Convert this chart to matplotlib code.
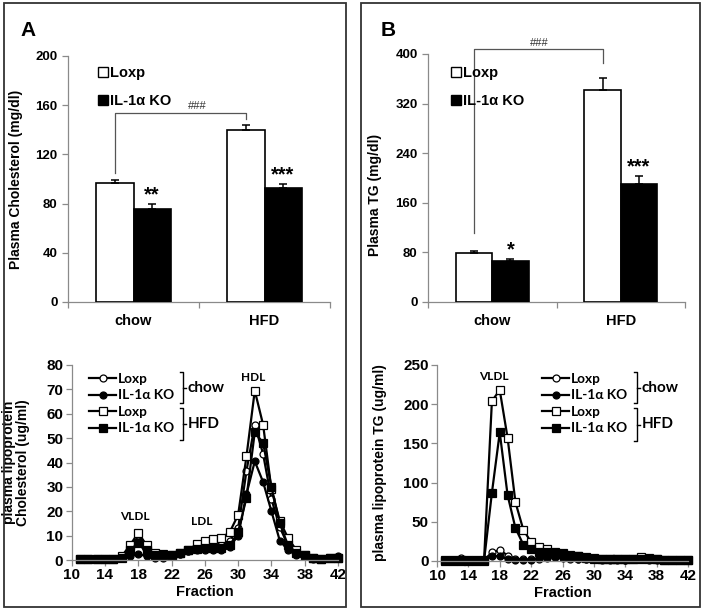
import matplotlib
matplotlib.use('Agg')
import matplotlib.pyplot as plt
from matplotlib.lines import Line2D
from matplotlib.patches import Rectangle, Patch

# ---------------- data ----------------
categories = ['chow', 'HFD']

chol_loxp = [96.5, 140]
chol_loxp_err = [2.5, 4]
chol_ko = [75.5, 93]
chol_ko_err = [4, 3]
chol_stars = ['**', '***']

tg_loxp = [79, 342]
tg_loxp_err = [3.5, 20]
tg_ko = [66, 191]
tg_ko_err = [4, 12]
tg_stars = ['*', '***']

fractions = list(range(11, 43))

chol_loxp_chow = [0.5, 0.5, 0.5, 0.5, 0.5, 1.0, 3.0, 8.0, 2.0, 1.5, 1.5, 2.0, 2.5, 3.5, 4.5, 5.0,
                  5.5, 6.0, 8.0, 13.0, 36.5, 55.5, 43.5, 25.0, 13.5, 6.0, 3.0, 2.0, 1.0, 0.5, 1.0, 1.0]
chol_ko_chow = [0.5, 0.5, 0.5, 0.5, 0.5, 0.8, 1.5, 2.5, 1.5, 1.0, 1.0, 1.5, 2.5, 3.5, 4.0, 4.0,
                4.0, 4.0, 5.5, 10.0, 27.0, 40.5, 32.0, 20.0, 8.0, 4.0, 2.0, 1.5, 0.5, 0.5, 1.0, 1.5]
chol_loxp_hfd = [0.5, 0.5, 0.5, 0.5, 0.5, 1.5, 6.0, 11.2, 6.0, 3.0, 2.5, 2.0, 3.0, 4.0, 6.5, 8.0,
                 8.5, 9.0, 11.5, 18.5, 42.5, 69.5, 55.5, 29.0, 16.0, 9.0, 4.0, 2.0, 1.0, 0.5, 1.0, 1.0]
chol_ko_hfd = [0.5, 0.5, 0.5, 0.5, 0.5, 1.0, 4.0, 7.0, 4.0, 2.0, 2.0, 2.0, 3.0, 4.0, 4.5, 5.0,
               5.0, 5.0, 6.0, 11.5, 25.5, 52.5, 48.0, 30.0, 15.0, 6.0, 3.0, 2.0, 1.0, 0.5, 1.0, 1.0]

tg_loxp_chow = [1, 1, 4, 1, 1, 1, 11, 14, 7, 3, 2, 2, 3, 4, 5, 4,
                3, 3, 2, 2, 2, 2, 2, 1, 2, 3, 2, 2, 1, 1, 1, 1]
tg_ko_chow = [0.5, 0.5, 0.5, 0.5, 0.5, 0.5, 6.5, 6, 2.5, 1.5, 1.5, 1.5, 4, 5, 5, 5,
              4, 3, 2, 2, 1.5, 1.5, 1.5, 1.5, 2, 2, 1.5, 1, 1, 1, 1, 1]
tg_loxp_hfd = [1, 1, 1, 1, 1, 1, 204, 218, 157, 75, 40, 24, 18, 15, 12, 10,
               8, 6, 5, 4, 3, 3, 2, 2, 3, 5, 4, 2, 1, 1, 1, 1]
tg_ko_hfd = [0.5, 0.5, 0.5, 0.5, 0.5, 0.5, 87, 164, 84, 42, 21, 15, 12, 11, 10, 9,
             7, 6, 4, 3, 3, 2, 2, 2, 3, 3, 2, 2, 1, 1, 1, 1]

series_labels = ['Loxp', 'IL-1\u03b1 KO', 'Loxp', 'IL-1\u03b1 KO']

# ---------------- figure ----------------
W, H = 703, 611
plt.rcParams['font.family'] = ['Liberation Sans', 'DejaVu Sans']
plt.rcParams['font.weight'] = 'bold'
plt.rcParams['axes.labelweight'] = 'bold'

fig = plt.figure(figsize=(W / 100, H / 100), dpi=100)


def rect(x0, x1, ytop, ybot):
    return [x0 / W, 1 - ybot / H, (x1 - x0) / W, (ybot - ytop) / H]


def fx(x):
    return x / W


def fy(y):
    return 1 - y / H


axis_gray = '#8a8a8a'


def style_axes(ax):
    for s in ['top', 'right']:
        ax.spines[s].set_visible(False)
    for s in ['left', 'bottom']:
        ax.spines[s].set_color(axis_gray)
        ax.spines[s].set_linewidth(0.9)
    ax.tick_params(colors=axis_gray, labelcolor='black', direction='out', length=4, width=0.9)


# panel borders
fig.add_artist(Rectangle((fx(4), fy(607)), (346 - 4) / W, (607 - 3) / H, transform=fig.transFigure,
                         fill=False, edgecolor='#333333', linewidth=1.3))
fig.add_artist(Rectangle((fx(361), fy(607)), (700 - 361) / W, (607 - 3) / H, transform=fig.transFigure,
                         fill=False, edgecolor='#333333', linewidth=1.3))

fig.text(fx(20), fy(30), 'A', fontsize=15, fontweight='bold', va='center', ha='left')
fig.text(fx(381), fy(30), 'B', fontsize=15, fontweight='bold', va='center', ha='left')

bw = 0.283


def bar_panel(ax, loxp, loxp_err, ko, ko_err, stars, ymax, step, ylabel, ylab_coords,
              bracket, hash_xy, leg_anchor):
    style_axes(ax)
    xc = [0.5, 1.5]
    xl = [c - bw / 2 for c in xc]
    xk = [c + bw / 2 for c in xc]
    ax.bar(xl, loxp, bw, color='white', edgecolor='black', linewidth=1.2,
           yerr=[[0, 0], loxp_err], error_kw=dict(ecolor='black', elinewidth=1.1, capsize=3, capthick=1.1),
           label='Loxp', zorder=3)
    ax.bar(xk, ko, bw, color='black', edgecolor='black', linewidth=1.2,
           yerr=[[0, 0], ko_err], error_kw=dict(ecolor='black', elinewidth=1.1, capsize=3, capthick=1.1),
           label='IL-1\u03b1 KO', zorder=3)
    for x, v, e, s in zip(xk, ko, ko_err, stars):
        ax.annotate(s, xy=(x, v + e), xytext=(0, 2.5), textcoords='offset points',
                    ha='center', va='baseline', fontsize=14.5, fontweight='bold')
    ax.set_xlim(0, 2)
    ax.set_ylim(0, ymax)
    ax.set_yticks(range(0, ymax + 1, step))
    ax.set_xticks(xc)
    ax.set_xticklabels(categories, fontsize=10.5, fontweight='bold')
    ax.set_xticks([0, 1, 2], minor=True)
    ax.tick_params(axis='x', which='major', length=0, pad=9)
    ax.tick_params(axis='x', which='minor', length=4, color=axis_gray, width=0.9)
    ax.tick_params(axis='y', labelsize=9.5)
    ax.set_ylabel(ylabel, fontsize=10, fontweight='bold')
    ax.yaxis.set_label_coords(*ylab_coords)
    # significance bracket
    y0l, y0r, ytop = bracket
    ax.plot([xl[0], xl[0], xl[1], xl[1]], [y0l, ytop, ytop, y0r], color='#555555', lw=0.9,
            clip_on=False, zorder=2)
    ax.text(hash_xy[0], hash_xy[1], '###', fontsize=8, fontweight='normal', ha='center',
            va='bottom', color='#333333')
    handles = [Patch(facecolor='white', edgecolor='black', linewidth=1.0),
               Patch(facecolor='black', edgecolor='black', linewidth=1.0)]
    ax.legend(handles, ['Loxp', 'IL-1\u03b1 KO'], loc='upper left', bbox_to_anchor=leg_anchor,
              bbox_transform=fig.transFigure, frameon=False, handlelength=0.7, handleheight=0.7,
              handletextpad=0.15, labelspacing=0.95, borderpad=0, borderaxespad=0,
              prop={'size': 10.5, 'weight': 'bold'})


axA = fig.add_axes(rect(68, 330, 56, 302))
bar_panel(axA, chol_loxp, chol_loxp_err, chol_ko, chol_ko_err, chol_stars, 200, 40,
          'Plasma Cholesterol (mg/dl)', (-0.172, 0.5), (105, 149, 154), (0.985, 155),
          (fx(98), fy(66)))

axB = fig.add_axes(rect(428, 685, 54, 302))
bar_panel(axB, tg_loxp, tg_loxp_err, tg_ko, tg_ko_err, tg_stars, 400, 80,
          'Plasma TG (mg/dl)', (-0.18, 0.43), (111, 385, 408), (0.87, 410),
          (fx(451), fy(66)))

# ---------------- line charts ----------------
styles = [dict(marker='o', mfc='white', ms=5.0),
          dict(marker='o', mfc='black', ms=5.0),
          dict(marker='s', mfc='white', ms=5.6),
          dict(marker='s', mfc='black', ms=5.6)]

leg_font = {'family': ['Lato', 'DejaVu Sans'], 'weight': 'bold', 'size': 9.8}


def bracket(x, y0, y1, label):
    ym = (y0 + y1) / 2
    kw = dict(transform=fig.transFigure, color='black', lw=1.0)
    fig.add_artist(Line2D([fx(x - 3), fx(x), fx(x), fx(x - 3)], [fy(y0), fy(y0), fy(y1), fy(y1)], **kw))
    fig.add_artist(Line2D([fx(x), fx(x + 3)], [fy(ym), fy(ym)], **kw))
    fig.text(fx(x + 5), fy(ym), label, ha='left', va='center', fontsize=11,
             family=['Lato', 'DejaVu Sans'], fontweight='bold')


def line_panel(ax, data, ymax, step, ylabel, ylab_coords, annots, leg_anchor, bx, brs):
    style_axes(ax)
    lines = []
    for d, st in zip(data, styles):
        ln, = ax.plot(fractions, d, color='black', lw=1.6, mec='black', mew=0.9, clip_on=False, **st)
        lines.append(ln)
    ax.set_xlim(10, 42)
    ax.set_ylim(0, ymax)
    ax.set_xticks(range(10, 43, 4))
    ax.set_yticks(range(0, ymax + 1, step))
    ax.tick_params(labelsize=11, pad=2)
    ax.set_xlabel('Fraction', fontsize=10.5, fontweight='bold', labelpad=2)
    ax.set_ylabel(ylabel, fontsize=10, fontweight='bold', linespacing=1.05)
    ax.yaxis.set_label_coords(*ylab_coords)
    for txt, x, y in annots:
        ax.text(x, y, txt, ha='center', va='center', fontsize=8.5,
                family=['Lato', 'DejaVu Sans'], fontweight='bold')
    ax.legend(lines, series_labels, loc='upper left', bbox_to_anchor=leg_anchor,
              bbox_transform=fig.transFigure, frameon=False, handlelength=2.0,
              handletextpad=0.15, labelspacing=0.33, borderpad=0, borderaxespad=0, prop=leg_font)
    for (y0, y1, lab) in brs:
        bracket(bx, y0, y1, lab)


axC = fig.add_axes(rect(71.7, 338, 365, 560))
line_panel(axC, [chol_loxp_chow, chol_ko_chow, chol_loxp_hfd, chol_ko_hfd], 80, 10,
           'plasma lipoprotein\nCholesterol (ug/ml)', (-0.155, 0.5),
           [('VLDL', 17.6, 18), ('LDL', 25.6, 15.7), ('HDL', 31.8, 75)],
           (fx(89), fy(373)), 183, [(372, 403, 'chow'), (408, 440, 'HFD')])

axD = fig.add_axes(rect(437, 688, 365, 561))
line_panel(axD, [tg_loxp_chow, tg_ko_chow, tg_loxp_hfd, tg_ko_hfd], 250, 50,
           'plasma lipoprotein TG (ug/ml)', (-0.2, 0.5),
           [('VLDL', 17.2, 235)],
           (fx(542), fy(373)), 637, [(372, 403, 'chow'), (408, 441, 'HFD')])

fig.savefig('out.png', dpi=100)
